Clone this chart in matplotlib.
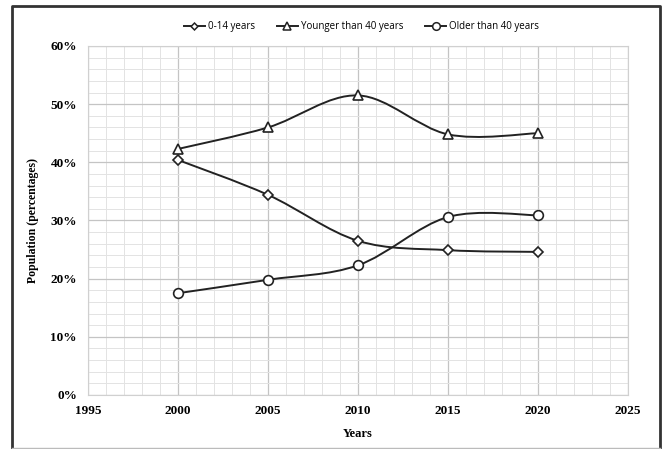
import numpy as np
import matplotlib.pyplot as plt
from matplotlib.path import Path
from matplotlib.patches import PathPatch
from matplotlib.lines import Line2D
from matplotlib.ticker import MultipleLocator, PercentFormatter

years = [2000, 2005, 2010, 2015, 2020]
kids = [40.4, 34.4, 26.5, 24.9, 24.6]
younger = [42.3, 46.0, 51.5, 44.8, 45.0]
older = [17.5, 19.8, 22.3, 30.6, 30.9]

series = [
    ("0-14 years", kids, "D", 5),
    ("Younger than 40 years", younger, "^", 7),
    ("Older than 40 years", older, "o", 7),
]


def smooth_path(x, y):
    # excel-like smoothed line: cubic bezier through the points
    x = np.asarray(x, float)
    y = np.asarray(y, float)
    pts = np.column_stack([x, y])
    verts = [pts[0]]
    codes = [Path.MOVETO]
    n = len(pts)
    for i in range(n - 1):
        p0 = pts[i - 1] if i > 0 else pts[i]
        p1 = pts[i]
        p2 = pts[i + 1]
        p3 = pts[i + 2] if i + 2 < n else pts[i + 1]
        c1 = p1 + (p2 - p0) / 6.0
        c2 = p2 - (p3 - p1) / 6.0
        verts += [c1, c2, p2]
        codes += [Path.CURVE4] * 3
    return Path(verts, codes)


fig = plt.figure(figsize=(6.62, 4.49), dpi=100)
ax = fig.add_axes([0.133, 0.1203, 0.8157, 0.7773])

for name, vals, mk, ms in series:
    ax.add_patch(PathPatch(smooth_path(years, vals), facecolor="none",
                           edgecolor="#222222", lw=1.4, zorder=3))
    ax.plot(years, vals, linestyle="none", marker=mk, ms=ms, mfc="white",
            mec="#222222", mew=1.2, zorder=4)

ax.set_xlim(1995, 2025)
ax.set_ylim(0, 60)
ax.xaxis.set_major_locator(MultipleLocator(5))
ax.xaxis.set_minor_locator(MultipleLocator(1))
ax.yaxis.set_major_locator(MultipleLocator(10))
ax.yaxis.set_minor_locator(MultipleLocator(2))
ax.yaxis.set_major_formatter(PercentFormatter(decimals=0))
ax.grid(which="major", color="#c4c4c4", lw=0.9)
ax.grid(which="minor", color="#e3e3e3", lw=0.7)
ax.set_axisbelow(True)
ax.tick_params(which="both", length=0)
ax.tick_params(axis="x", pad=7)
ax.tick_params(axis="y", pad=8)
for s in ax.spines.values():
    s.set_color("#d0d0d0")
    s.set_linewidth(0.8)

for lab in ax.get_xticklabels() + ax.get_yticklabels():
    lab.set_fontfamily("Liberation Serif")
    lab.set_fontweight("bold")
    lab.set_fontsize(9.5)

ax.set_xlabel("Years", fontfamily="Liberation Serif", fontweight="bold",
              fontsize=9, labelpad=8)
ax.set_ylabel("Population (percentages)", fontfamily="Liberation Serif",
              fontweight="bold", fontsize=8.5, labelpad=8)

handles = [Line2D([], [], color="#222222", lw=1.4, marker=mk, ms=ms - 1.5,
                  mfc="white", mec="#222222", mew=1.1)
           for name, vals, mk, ms in series]
fig.legend(handles, [s[0] for s in series], loc="center",
           bbox_to_anchor=(0.546, 0.94), ncol=3, frameon=False,
           prop={"family": "Open Sans", "size": 7}, handlelength=2.2,
           handletextpad=0.3, columnspacing=2.2)

# outer frame: dark on left/top/right, faint at the bottom
fx0, fx1, fy0, fy1 = 0.018, 0.997, 0.003, 0.987
fig.add_artist(Line2D([fx0, fx0, fx1, fx1], [fy0, fy1, fy1, fy0],
                      transform=fig.transFigure, color="#333333", lw=2))
fig.add_artist(Line2D([fx0, fx1], [fy0, fy0], transform=fig.transFigure,
                      color="#bbbbbb", lw=1))

fig.savefig("out.png", dpi=100)
